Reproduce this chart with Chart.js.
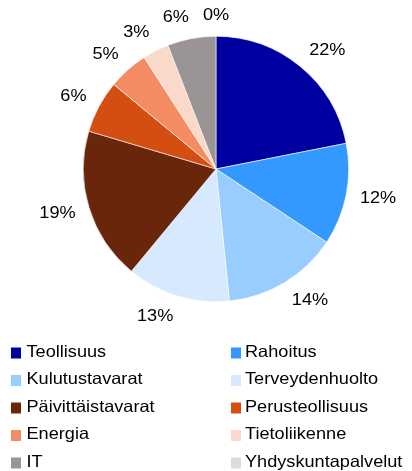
<!DOCTYPE html>
<html>
<head>
<meta charset="utf-8">
<script src="https://cdn.jsdelivr.net/npm/chart.js@4"></script>
<style>
  html, body { margin: 0; padding: 0; background: #fff; }
  #wrap { width: 412px; height: 471px; position: relative; }
</style>
</head>
<body>
<div id="wrap"><canvas id="myChart"></canvas></div>
<script>
let myLabels = ['Teollisuus', 'Rahoitus', 'Kulutustavarat', 'Terveydenhuolto',
    'Päivittäistavarat', 'Perusteollisuus', 'Energia', 'Tietoliikenne',
    'IT', 'Yhdyskuntapalvelut'];

// osuudet prosentteina
let myData = [21.9, 12.4, 14.1, 12.6, 18.6, 6.4, 4.9, 3.2, 5.9, 0];

let myColors = ['#0000a0', '#3399ff', '#99ccff', '#d7e9ff',
    '#6a260a', '#d44e12', '#f38c63', '#fad8ca',
    '#9a9594', '#dddbdb'];

const FONT = '16.5px "Liberation Sans", Arial, sans-serif';
const STRETCH = 1.1; // teksti on alkuperäisessä hieman leveämpää

let drawText = (c, txt, x, y) => {
    c.save();
    c.translate(x, y);
    c.scale(STRETCH, 1);
    c.fillText(txt, 0, 0);
    c.restore();
};

// prosenttitekstit sektorien ulkopuolelle
const pctLabels = {
    id: 'pctLabels',
    afterDatasetsDraw(chart) {
        let c = chart.ctx;
        let arcs = chart.getDatasetMeta(0).data;
        c.save();
        c.font = FONT;
        c.fillStyle = '#000';
        c.textAlign = 'center';
        c.textBaseline = 'middle';
        arcs.forEach((arc, i) => {
            let p = arc.getProps(['x', 'y', 'startAngle', 'endAngle', 'outerRadius'], true);
            let mid = (p.startAngle + p.endAngle) / 2;
            let txt = Math.round(myData[i]) + '%';
            let w = c.measureText(txt).width * STRETCH;
            let r = p.outerRadius + 14;
            let dx = Math.cos(mid), dy = Math.sin(mid);
            let side = Math.abs(dx) < 0.05 ? 0 : Math.sign(dx);
            let x = p.x + dx * r + side * w / 2;
            let y = p.y + dy * r + dy * 7;
            drawText(c, txt, x, y);
        });
        c.restore();
    }
};

// selite kahteen sarakkeeseen kuvan alle
const twoColLegend = {
    id: 'twoColLegend',
    afterDraw(chart) {
        let c = chart.ctx;
        c.save();
        c.font = FONT;
        c.textAlign = 'left';
        c.textBaseline = 'alphabetic';
        myLabels.forEach((lab, i) => {
            let col = i % 2;
            let row = Math.floor(i / 2);
            let bx = col ? 231 : 11;
            let base = 356.5 + row * 27.5;
            c.fillStyle = myColors[i];
            c.fillRect(bx, base - 9, 10, 11);
            c.fillStyle = '#000';
            drawText(c, lab, bx + (col ? 14 : 15.5), base);
        });
        c.restore();
    }
};

let ctx = document.getElementById('myChart').getContext('2d');
let myChart = new Chart(ctx, {
    type: 'pie',
    data: {
        labels: myLabels,
        datasets: [{
            data: myData,
            backgroundColor: myColors,
            borderColor: '#ffffff',
            borderWidth: 0.6
        }]
    },
    options: {
        responsive: true,
        maintainAspectRatio: false,
        animation: false,
        layout: {
            padding: { top: 36, bottom: 169, left: 83, right: 63 }
        },
        plugins: {
            legend: { display: false },
            tooltip: { enabled: false }
        }
    },
    plugins: [pctLabels, twoColLegend]
});
</script>
</body>
</html>
